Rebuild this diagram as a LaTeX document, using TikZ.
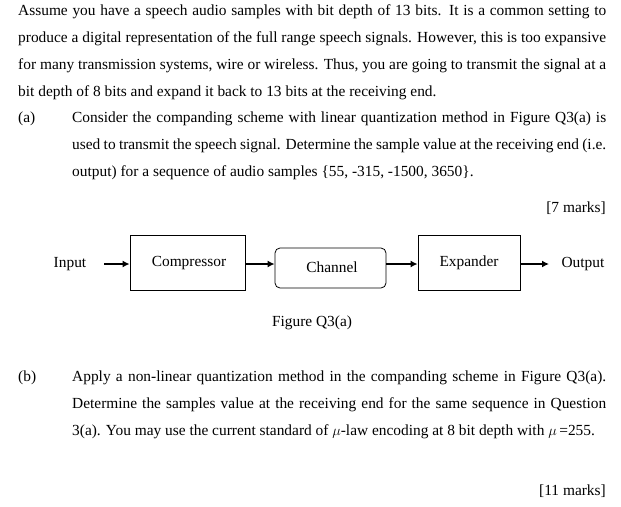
\documentclass[tikz,border=0pt]{standalone}
\usepackage{fontspec}
\setmainfont{Liberation Serif}
\usetikzlibrary{arrows.meta}
\begin{document}
\begin{tikzpicture}[x=1pt,y=-1pt,
  para/.style={anchor=north west,inner sep=0pt,align=justify,font=\fontsize{15.4}{27}\selectfont},
  lbl/.style={inner sep=0pt,font=\fontsize{15.4}{17}\selectfont},
  blk/.style={draw,line width=0.8pt,inner sep=0pt},
  arr/.style={-{Latex[length=7pt,width=7pt]},line width=1.8pt}]
\useasboundingbox (0,0) rectangle (621,506);
\node[para,text width=588pt] (p0) at (18,4) {Assume you have a speech audio samples with bit depth of 13 bits. It is a common setting to produce a digital representation of the full range speech signals. However, this is too expansive for many transmission systems, wire or wireless. Thus, you are going to transmit the signal at a bit depth of 8 bits and expand it back to 13 bits at the receiving end.};
\node[para] (la) at (18,112) {(a)};
\node[para,text width=534pt] (pa) at (72,112) {Consider the companding scheme with linear quantization method in Figure Q3(a) is used to transmit the speech signal. Determine the sample value at the receiving end (i.e.\ output) for a sequence of audio samples \{55, -315, -1500, 3650\}.};
\node[lbl,anchor=east] (m7) at (606,208) {[7 marks]};
\node[lbl] (in) at (70,264) {Input};
\node[blk,minimum width=115pt,minimum height=55pt] (c) at (187.5,262.5) {};
\node[lbl] at (189,263) {Compressor};
\node[blk,rounded corners=5pt,minimum width=111pt,minimum height=40pt] (ch) at (330.5,268) {};
\node[lbl] at (332,267) {Channel};
\node[blk,minimum width=102pt,minimum height=55pt] (e) at (469,262.5) {};
\node[lbl] at (469,263) {Expander};
\node[lbl] (out) at (583,264) {Output};
\coordinate (a0) at (104,264);
\coordinate (a4) at (549,264);
\draw[arr] (a0) -- (a0 -| c.west);
\draw[arr] (c.east |- a0) -- (ch.west |- a0);
\draw[arr] (ch.east |- a0) -- (e.west |- a0);
\draw[arr] (e.east |- a0) -- (a4);
\node[lbl] (fig) at (312,323) {Figure Q3(a)};
\node[para] (lb) at (18,371) {(b)};
\node[para,text width=534pt] (pb) at (72,371) {Apply a non-linear quantization method in the companding scheme in Figure Q3(a). Determine the samples value at the receiving end for the same sequence in Question 3(a). You may use the current standard of $\mu$-law encoding at 8 bit depth with $\mu$\,=255.};
\node[lbl,anchor=east] (m11) at (606,491) {[11 marks]};
\end{tikzpicture}
\end{document}
